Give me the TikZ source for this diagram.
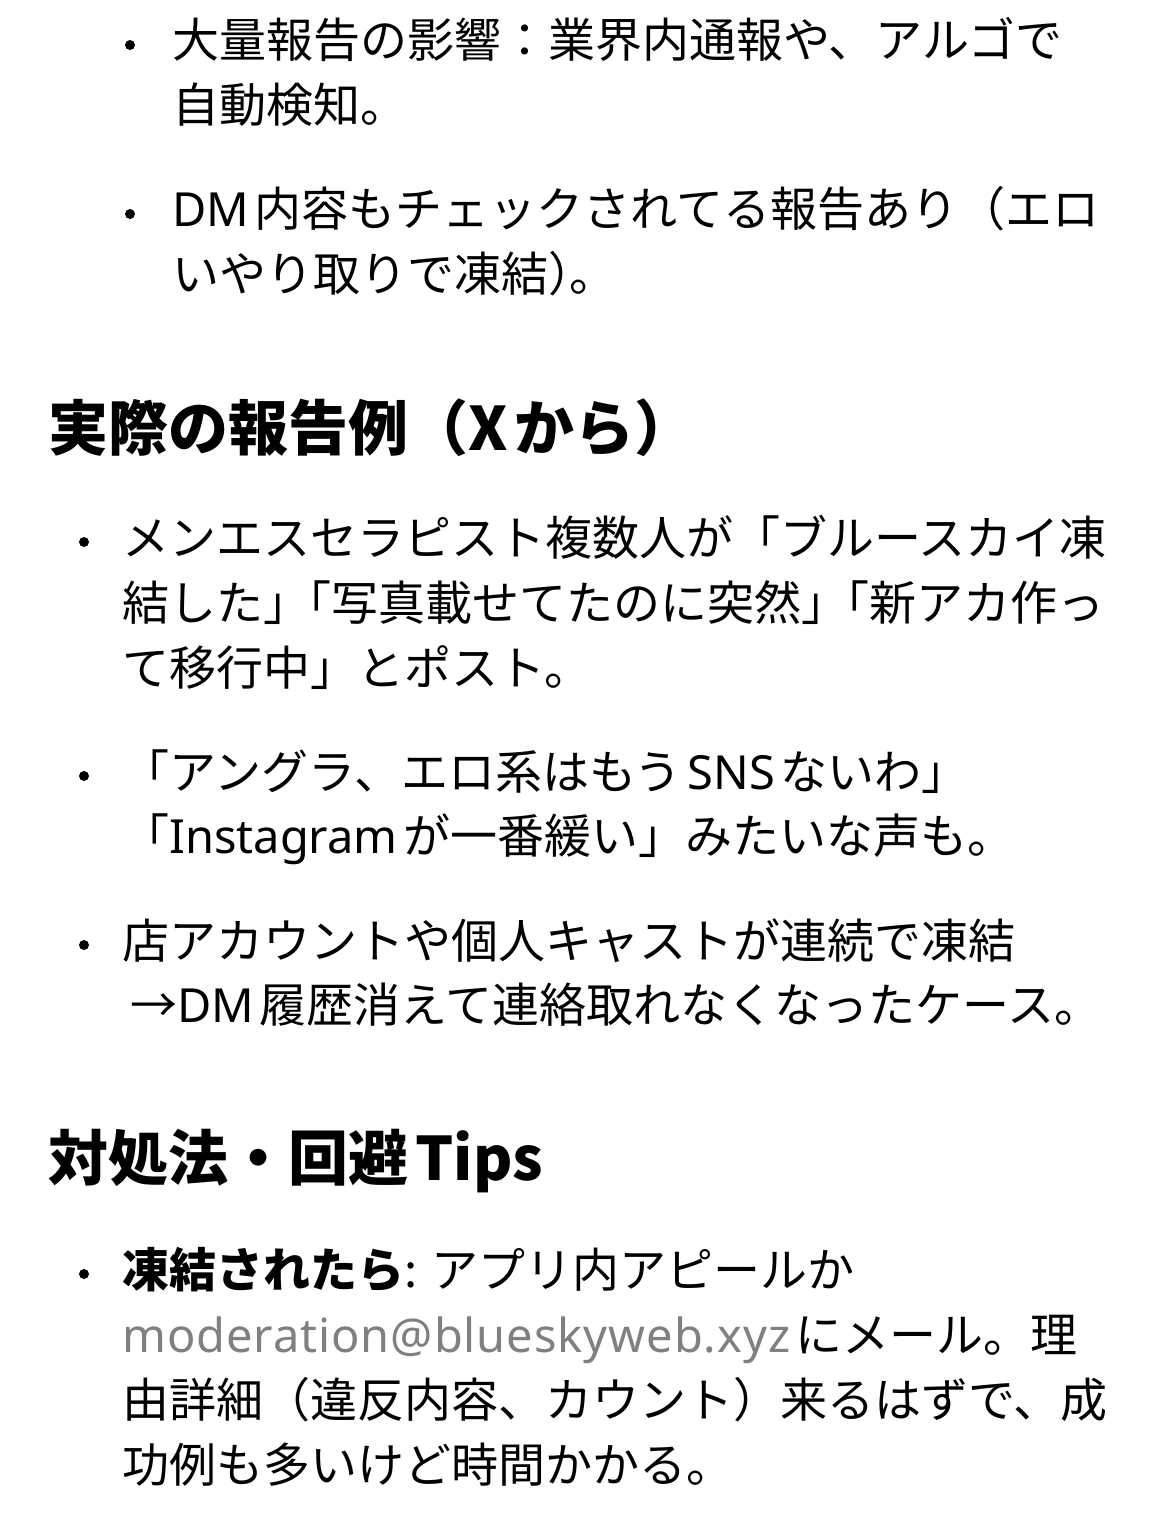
\documentclass[tikz,border=0pt]{standalone}
\usepackage{fontspec}
\setmainfont{Noto Sans CJK JP}
\newfontfamily\latinfont{Noto Sans}
\usetikzlibrary{positioning}
\newcommand{\gapsp}{\hspace{0.12em}}
\newcommand{\tightsp}{\hspace{-0.55em}}
\newcommand{\lat}[1]{{\latinfont #1}}
\tikzset{
    bodysty/.style={anchor=base west,inner sep=0pt,font=\fontsize{47}{47}\selectfont},
    headsty/.style={anchor=base west,inner sep=0pt,font=\fontsize{60}{60}\selectfont\bfseries},
    dotsty/.style={circle,fill=black,inner sep=0pt,minimum size=10pt},
}
\colorlet{mailgray}{black!50}
\begin{document}
\begin{tikzpicture}[x=1pt,y=-1pt]
\useasboundingbox (0,0) rectangle (1169,1522);
% nested bullets
\node[dotsty] (d1) at (130,45) {};
\node[bodysty] (b1a) at (172,58) {大量報告の影響：業界内通報や、アルゴで};
\node[bodysty] (b1b) at (172,123) {自動検知。};
\node[dotsty] (d2) at (130,214) {};
\node[bodysty] (b2a) at (172,227) {\lat{DM}\gapsp 内容もチェックされてる報告あり（エロ};
\node[bodysty] (b2b) at (172,291) {いやり取りで凍結）\tightsp 。};
% heading 1
\node[headsty] (h1) at (48,450) {実際の報告例（X\gapsp から）};
\node[dotsty] (d3) at (84,542) {};
\node[bodysty] (b3a) at (122,555) {メンエスセラピスト複数人が「ブルースカイ凍};
\node[bodysty] (b3b) at (122,620) {結した」\tightsp「写真載せてたのに突然」\tightsp「新アカ作っ};
\node[bodysty] (b3c) at (122,685) {て移行中」とポスト。};
\node[dotsty] (d4) at (84,776) {};
\node[bodysty] (b4a) at (122,789) {「アングラ、エロ系はもう\gapsp\lat{SNS}\gapsp ないわ」};
\node[bodysty] (b4b) at (122,853) {「\lat{Instagram}\gapsp が一番緩い」みたいな声も。};
\node[dotsty] (d5) at (84,945) {};
\node[bodysty] (b5a) at (122,958) {店アカウントや個人キャストが連続で凍結};
\node[bodysty] (b5b) at (130,1022) {→\lat{DM}\gapsp 履歴消えて連絡取れなくなったケース。};
% heading 2
\node[headsty] (h2) at (48,1180) {対処法・回避\gapsp Tips};
\node[dotsty] (d6) at (84,1274) {};
\node[bodysty] (b6a) at (122,1287) {{\bfseries 凍結されたら}: アプリ内アピールか};
\node[bodysty] (b6b) at (122,1352) {{\color{mailgray}\latinfont\addfontfeature{LetterSpace=2}moderation@blueskyweb.xyz}\gapsp にメール。理};
\node[bodysty] (b6c) at (122,1417) {由詳細（違反内容、カウント）来るはずで、成};
\node[bodysty] (b6d) at (122,1482) {功例も多いけど時間かかる。};
\end{tikzpicture}
\end{document}
